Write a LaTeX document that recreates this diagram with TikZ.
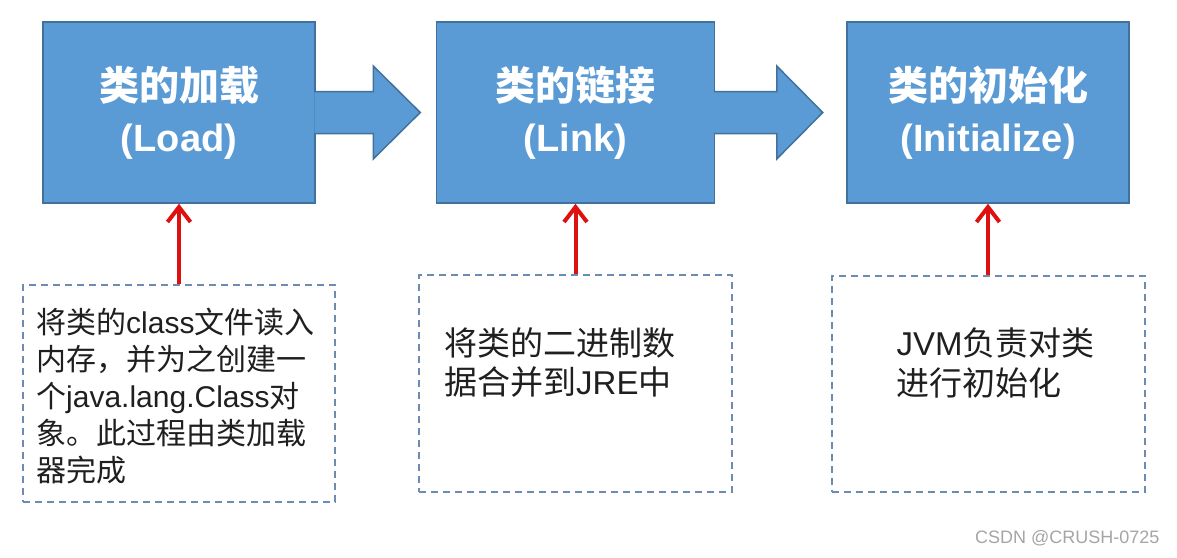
\documentclass[tikz,border=0pt]{standalone}
\usepackage{fontspec}
\setmainfont{Liberation Sans}
\newfontfamily\cjk{Noto Sans CJK SC}
\newcommand{\zh}[1]{{\cjk #1}}
\usepackage{tikz}
\usetikzlibrary{arrows.meta,positioning}
\definecolor{stageblue}{RGB}{91,155,213}
\definecolor{stageedge}{RGB}{65,113,156}
\definecolor{descedge}{RGB}{110,140,176}
\definecolor{feedred}{RGB}{222,16,16}
\definecolor{markgray}{RGB}{165,165,165}

\begin{document}
\begin{tikzpicture}[x=1pt, y=-1pt,
    stage/.style={draw=stageedge, line width=1.5pt, fill=stageblue, text=white,
      align=center, minimum height=181pt, font=\bfseries\fontsize{38}{51}\selectfont},
    desc/.style={draw=descedge, line width=2pt, dash pattern=on 7pt off 5pt},
    desctext/.style={anchor=north west, inner sep=0pt, align=left, text=black!88},
    flow/.style={draw=stageedge, line width=1.5pt, fill=stageblue},
    feed/.style={draw=feedred, line width=4pt, -{Straight Barb[length=15pt,width=23pt]}}]
    \useasboundingbox (0,0) rectangle (1177,557);
      % le tre fasi
      \node[stage, minimum width=272pt] (load) at (179,112.5)
        {{\cjk\fontsize{40}{51}\selectfont 类的加载}\\(Load)};                 % caricamento
      \node[stage, minimum width=278pt, right=120pt of load] (link)
        {{\cjk\fontsize{40}{51}\selectfont 类的链接}\\(Link)};                 % collegamento
      \node[stage, minimum width=282pt, right=131pt of link] (init)
        {{\cjk\fontsize{40}{51}\selectfont 类的初始化}\\(Initialize)};         % inizializzazione

      % riquadri tratteggiati
      \node[desc, minimum width=312pt, minimum height=217pt, below=80pt of load] (loaddesc) {};
      \node[desc, minimum width=313pt, minimum height=217pt, below=70pt of link] (linkdesc) {};
      \node[desc, minimum width=313pt, minimum height=216pt, below=71pt of init] (initdesc) {};

      % testi dei riquadri
      \node[desctext, font=\fontsize{30}{37}\selectfont] (loadtext)
        at ([shift={(14,24)}]loaddesc.north west)
        {\zh{将类的}class\zh{文件读入}\\
         \zh{内存，并为之创建一}\\
         \zh{个}java.lang.Class\zh{对}\\
         \zh{象。此过程由类加载}\\
         \zh{器完成}};
      \node[desctext, font=\fontsize{33}{39}\selectfont] (linktext)
        at ([shift={(26,54)}]linkdesc.north west)
        {\zh{将类的二进制数}\\
         \zh{据合并到}JRE\zh{中}};
      \node[desctext, font=\fontsize{33}{40}\selectfont] (inittext)
        at ([shift={(66,53)}]initdesc.north west)
        {JVM\zh{负责对类}\\
         \zh{进行初始化}};

      % frecce blu tra le fasi
      \draw[flow] ([xshift=-1.5pt]load.east) ++(0,-21) -- ++(59,0) -- ++(0,-25.5)
        -- ++(47,46.5) -- ++(-47,46.5) -- ++(0,-25.5) -- ++(-59,0);
      \draw[flow] ([xshift=-1.5pt]link.east) ++(0,-21) -- ++(63,0) -- ++(0,-25.5)
        -- ++(46,46.5) -- ++(-46,46.5) -- ++(0,-25.5) -- ++(-63,0);

      % frecce rosse
      \draw[feed] (loaddesc.north) -- (load.south);
      \draw[feed] (linkdesc.north) -- (link.south);
      \draw[feed] (initdesc.north) -- (init.south);

      % filigrana
      \node[anchor=east, text=markgray, font=\fontsize{18}{20}\selectfont] (mark)
        at (1163,538) {CSDN @CRUSH-0725};
\end{tikzpicture}
\end{document}
